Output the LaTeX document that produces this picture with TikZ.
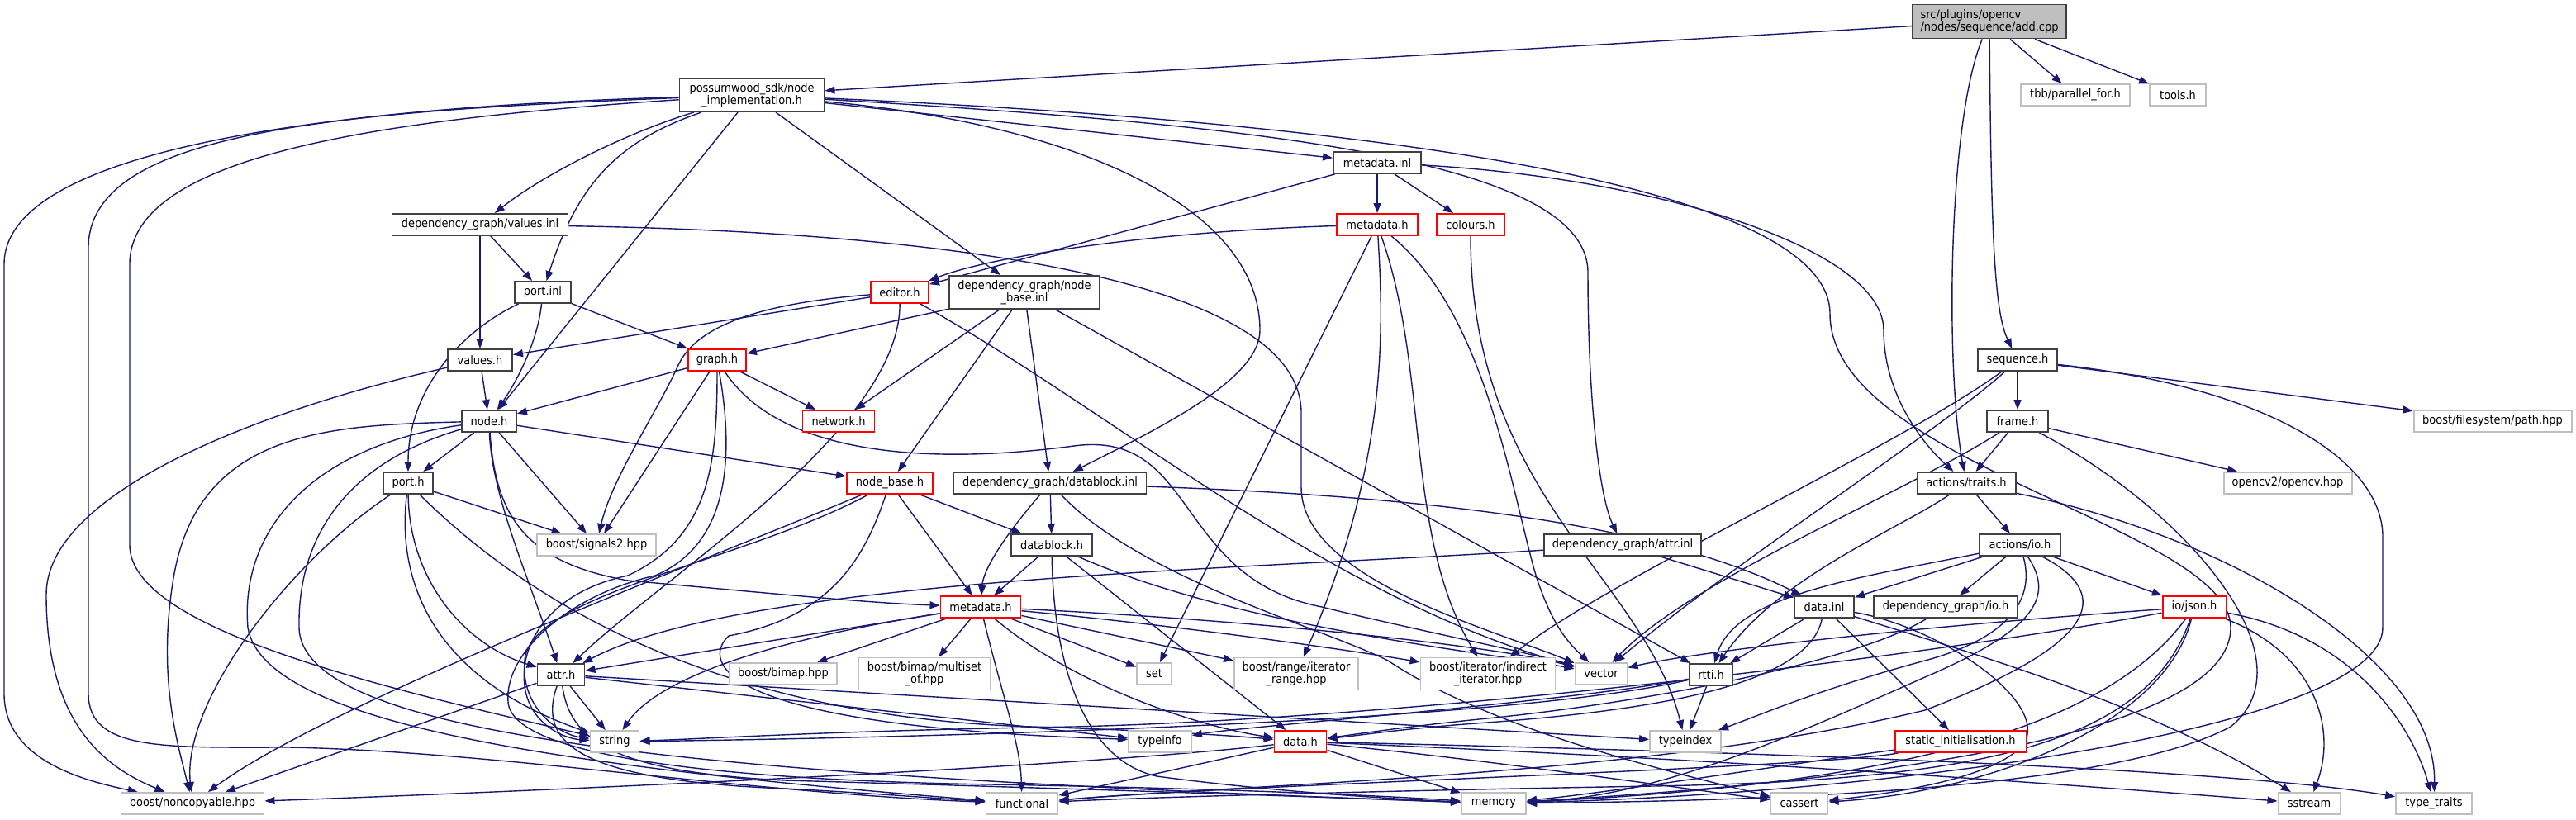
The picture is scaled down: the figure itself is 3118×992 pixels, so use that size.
\documentclass[tikz,border=0pt]{standalone}
\usepackage{fontspec}
\newfontfamily\dotfont{DejaVu Sans}[FakeStretch=0.9]
\usetikzlibrary{arrows.meta}
\definecolor{edgeblue}{HTML}{191970}
\definecolor{greyfill}{HTML}{BFBFBF}
\definecolor{boxline}{HTML}{404040}
\pgfdeclarelayer{edges}
\pgfsetlayers{edges,main}
\tikzset{
  file/.style={draw=boxline, fill=white, line width=0.55pt, inner xsep=0.8mm, inner ysep=0.2mm,
    minimum height=2.6mm, align=center, font=\dotfont\fontsize{4.1}{4.3}\selectfont},
  trunc/.style={file, draw=red},
  ext/.style={file, draw=greyfill},
  root/.style={file, fill=greyfill, align=left},
  dep/.style={draw=edgeblue, line width=0.4pt, -{Triangle[length=1.2mm,width=0.9mm]}}
}
\begin{document}
\begin{tikzpicture}[x=0.1mm, y=-0.1mm]
  \useasboundingbox (0,0) rectangle (3118,992);

  \node[root, minimum width=18.6mm, minimum height=4.1mm] (add) at (2408,26) {src/plugins/opencv\\/nodes/sequence/add.cpp};
  \node[file, minimum width=17.5mm, minimum height=4mm] (poss) at (910,115) {possumwood\_sdk/node\\\_implementation.h};
  \node[ext, minimum width=13.2mm] (tbb) at (2512,115) {tbb/parallel\_for.h};
  \node[ext, minimum width=6.8mm] (tools) at (2636,115) {tools.h};
  \node[file, minimum width=10.6mm] (mdinl) at (1667,197) {metadata.inl};
  \node[file, minimum width=21.3mm] (valinl) at (581,272) {dependency\_graph/values.inl};
  \node[trunc, minimum width=9.8mm] (mdtop) at (1667,272) {metadata.h};
  \node[trunc, minimum width=8.2mm] (colours) at (1780,272) {colours.h};
  \node[file, minimum width=6.8mm] (portinl) at (657,354) {port.inl};
  \node[trunc, minimum width=7mm] (editor) at (1089,354) {editor.h};
  \node[file, minimum width=18.2mm, minimum height=4mm] (nbinl) at (1240,354) {dependency\_graph/node\\\_base.inl};
  \node[file, minimum width=7.8mm] (valh) at (581,436) {values.h};
  \node[trunc, minimum width=7mm] (graph) at (868,436) {graph.h};
  \node[file, minimum width=9.6mm] (seq) at (2442,436) {sequence.h};
  \node[file, minimum width=6.6mm] (nodeh) at (592,510) {node.h};
  \node[trunc, minimum width=8.7mm] (network) at (1015,510) {network.h};
  \node[file, minimum width=7.4mm] (frame) at (2442,510) {frame.h};
  \node[ext, minimum width=19.1mm] (fspath) at (3017,510) {boost/filesystem/path.hpp};
  \node[file, minimum width=6mm] (porth) at (494,585) {port.h};
  \node[trunc, minimum width=10.4mm] (nbh) at (1077,585) {node\_base.h};
  \node[file, minimum width=23.3mm] (dbinl) at (1271,585) {dependency\_graph/datablock.inl};
  \node[file, minimum width=11.9mm] (traits) at (2380,585) {actions/traits.h};
  \node[ext, minimum width=15.5mm] (opencv) at (2769,585) {opencv2/opencv.hpp};
  \node[ext, minimum width=14.4mm] (signals) at (722,660) {boost/signals2.hpp};
  \node[file, minimum width=9.8mm] (dbh) at (1273,660) {datablock.h};
  \node[file, minimum width=19mm] (attrinl) at (1964,660) {dependency\_graph/attr.inl};
  \node[file, minimum width=9.8mm] (io) at (2445,660) {actions/io.h};
  \node[trunc, minimum width=9.7mm] (mdlow) at (1187,735) {metadata.h};
  \node[file, minimum width=7.2mm] (datainl) at (2208,735) {data.inl};
  \node[file, minimum width=17.4mm] (dgio) at (2355,735) {dependency\_graph/io.h};
  \node[trunc, minimum width=7.7mm] (json) at (2656,735) {io/json.h};
  \node[file, minimum width=5.7mm] (attrh) at (679,817) {attr.h};
  \node[ext, minimum width=13mm] (bimap) at (948,816) {boost/bimap.hpp};
  \node[ext, minimum width=16mm, minimum height=3.9mm] (multiset) at (1119,816) {boost/bimap/multiset\\\_of.hpp};
  \node[ext, minimum width=4.2mm] (set) at (1397,816) {set};
  \node[ext, minimum width=15mm, minimum height=3.9mm] (range) at (1569,816) {boost/range/iterator\\\_range.hpp};
  \node[ext, minimum width=16.3mm, minimum height=3.9mm] (indirect) at (1801,816) {boost/iterator/indirect\\\_iterator.hpp};
  \node[ext, minimum width=6.3mm] (vector) at (1938,816) {vector};
  \node[file, minimum width=5.3mm] (rtti) at (2071,817) {rtti.h};
  \node[ext, minimum width=5.9mm] (string) at (744,898) {string};
  \node[ext, minimum width=7.6mm] (typeinfo) at (1404,898) {typeinfo};
  \node[trunc, minimum width=6.3mm] (datah) at (1574,898) {data.h};
  \node[ext, minimum width=8.6mm] (typeindex) at (2040,898) {typeindex};
  \node[trunc, minimum width=15.9mm] (static) at (2373,898) {static\_initialisation.h};
  \node[ext, minimum width=17.3mm] (noncop) at (233,973) {boost/noncopyable.hpp};
  \node[ext, minimum width=8.7mm] (functional) at (1237,973) {functional};
  \node[ext, minimum width=7.8mm] (memory) at (1808,973) {memory};
  \node[ext, minimum width=6.9mm] (cassert) at (2178,973) {cassert};
  \node[ext, minimum width=7.5mm] (sstream) at (2795,973) {sstream};
  \node[ext, minimum width=9.2mm] (typetraits) at (2946,973) {type\_traits};

  \begin{pgfonlayer}{edges}
  \draw[dep] (add) -- (poss);
  \draw[dep] (add) -- (tbb);
  \draw[dep] (add) -- (tools);
  \draw[dep] (add) .. controls (2410,300) and (2415,380) .. (seq);
  \draw[dep] (add) .. controls (2357,150) and (2355,450) .. (traits);

  \draw[dep] (poss) .. controls (400,130) and (5,180) .. (5,320) -- (5,840) .. controls (5,920) and (100,945) .. (noncop);
  \draw[dep] (poss) .. controls (400,135) and (107,160) .. (107,300) -- (107,840) .. controls (107,910) and (200,905) .. (350,905) .. controls (600,910) and (900,960) .. (functional);
  \draw[dep] (poss) .. controls (450,145) and (157,190) .. (157,320) -- (157,660) .. controls (157,760) and (450,830) .. (string);
  \draw[dep] (poss) .. controls (760,160) and (660,210) .. (valinl);
  \draw[dep] (poss) .. controls (750,170) and (700,220) .. (portinl);
  \draw[dep] (poss) -- (nodeh);
  \draw[dep] (poss) -- (nbinl);
  \draw[dep] (poss) -- (mdinl);
  \draw[dep] (poss) .. controls (1300,150) and (1525,250) .. (1525,400) .. controls (1525,460) and (1400,520) .. (dbinl);
  \draw[dep] (poss) .. controls (1500,150) and (1922,190) .. (1922,330) .. controls (1922,480) and (1935,600) .. (attrinl);
  \draw[dep] (poss) .. controls (1700,150) and (2215,230) .. (2215,380) .. controls (2215,560) and (2700,640) .. (2700,760) .. controls (2700,900) and (2200,950) .. (memory);

  \draw[dep] (valinl) -- (portinl);
  \draw[dep] (valinl) -- (valh);
  \draw[dep] (valinl) .. controls (1100,280) and (1575,330) .. (1575,500) -- (1575,590) .. controls (1575,700) and (1800,760) .. (vector);

  \draw[dep] (portinl) .. controls (560,400) and (494,470) .. (porth);
  \draw[dep] (portinl) .. controls (650,420) and (620,470) .. (nodeh);
  \draw[dep] (portinl) -- (graph);

  \draw[dep] (valh) -- (nodeh);
  \draw[dep] (valh) .. controls (300,500) and (56,600) .. (56,720) .. controls (56,880) and (130,930) .. (noncop);

  \draw[dep] (editor) -- (valh);
  \draw[dep] (editor) .. controls (950,365) and (850,385) .. (822,440) .. controls (795,500) and (740,580) .. (signals);
  \draw[dep] (editor) .. controls (1090,520) and (800,700) .. (attrh);
  \draw[dep] (editor) .. controls (1350,500) and (1600,720) .. (vector);

  \draw[dep] (nbinl) -- (graph);
  \draw[dep] (nbinl) -- (network);
  \draw[dep] (nbinl) -- (nbh);
  \draw[dep] (nbinl) -- (dbinl);
  \draw[dep] (nbinl) -- (rtti);

  \draw[dep] (graph) -- (nodeh);
  \draw[dep] (graph) -- (network);
  \draw[dep] (graph) -- (signals);
  \draw[dep] (graph) .. controls (950,560) and (1150,560) .. (1300,540) .. controls (1450,520) and (1420,700) .. (1600,735) .. controls (1700,760) and (1850,790) .. (vector);
  \draw[dep] (graph) .. controls (868,560) and (860,650) .. (760,697) .. controls (650,720) and (620,800) .. (640,850) .. controls (655,885) and (690,895) .. (string);
  \draw[dep] (graph) .. controls (890,560) and (880,660) .. (793,697) .. controls (690,720) and (610,790) .. (615,850) .. controls (620,920) and (900,945) .. (1200,950) .. controls (1500,955) and (1700,965) .. (memory);

  \draw[dep] (nodeh) -- (porth);
  \draw[dep] (nodeh) -- (signals);
  \draw[dep] (nodeh) -- (nbh);
  \draw[dep] (nodeh) .. controls (595,600) and (640,700) .. (attrh);
  \draw[dep] (nodeh) .. controls (600,620) and (630,680) .. (760,703) .. controls (950,720) and (1050,730) .. (mdlow);
  \draw[dep] (nodeh) .. controls (400,515) and (240,520) .. (210,700) .. controls (190,820) and (215,900) .. (noncop);
  \draw[dep] (nodeh) .. controls (380,540) and (290,640) .. (300,760) .. controls (320,880) and (700,930) .. (functional);
  \draw[dep] (nodeh) .. controls (420,560) and (360,650) .. (362,760) .. controls (365,900) and (900,940) .. (memory);

  \draw[dep] (porth) .. controls (350,680) and (220,850) .. (noncop);
  \draw[dep] (porth) -- (signals);
  \draw[dep] (porth) .. controls (495,700) and (560,780) .. (attrh);
  \draw[dep] (porth) .. controls (480,700) and (520,820) .. (string);
  \draw[dep] (porth) .. controls (660,750) and (900,870) .. (1250,880) .. controls (1400,885) and (1480,890) .. (datah);

  \draw[dep] (nbh) -- (mdlow);
  \draw[dep] (nbh) -- (dbh);
  \draw[dep] (nbh) .. controls (850,680) and (400,850) .. (noncop);
  \draw[dep] (nbh) .. controls (900,680) and (640,720) .. (635,800) .. controls (630,860) and (680,890) .. (string);
  \draw[dep] (nbh) .. controls (1045,680) and (1004,747) .. (882,770) .. controls (850,800) and (860,880) .. (1357,895) -- (typeinfo);

  \draw[dep] (dbinl) .. controls (1215,650) and (1190,690) .. (mdlow);
  \draw[dep] (dbinl) -- (dbh);
  \draw[dep] (dbinl) .. controls (1700,600) and (2000,630) .. (datainl);
  \draw[dep] (dbinl) .. controls (1380,700) and (1600,760) .. (1680,800) .. controls (1800,880) and (2000,930) .. (cassert);

  \draw[dep] (dbh) -- (mdlow);
  \draw[dep] (dbh) -- (datah);
  \draw[dep] (dbh) .. controls (1275,800) and (1310,920) .. (1400,940) .. controls (1550,960) and (1700,968) .. (memory);
  \draw[dep] (dbh) .. controls (1500,760) and (1800,790) .. (vector);

  \draw[dep] (mdlow) -- (attrh);
  \draw[dep] (mdlow) .. controls (900,780) and (790,830) .. (string);
  \draw[dep] (mdlow) -- (bimap);
  \draw[dep] (mdlow) -- (multiset);
  \draw[dep] (mdlow) -- (set);
  \draw[dep] (mdlow) -- (range);
  \draw[dep] (mdlow) .. controls (1215,850) and (1235,900) .. (functional);
  \draw[dep] (mdlow) .. controls (1300,830) and (1450,880) .. (datah);
  \draw[dep] (mdlow) .. controls (1450,760) and (1650,790) .. (indirect);
  \draw[dep] (mdlow) .. controls (1500,750) and (1800,780) .. (vector);

  \draw[dep] (attrh) -- (noncop);
  \draw[dep] (attrh) -- (string);
  \draw[dep] (attrh) .. controls (650,900) and (700,945) .. (950,955) .. controls (1050,960) and (1150,968) .. (functional);
  \draw[dep] (attrh) .. controls (690,900) and (750,935) .. (950,945) .. controls (1300,955) and (1600,965) .. (memory);
  \draw[dep] (attrh) -- (typeinfo);
  \draw[dep] (attrh) -- (typeindex);

  \draw[dep] (mdinl) -- (mdtop);
  \draw[dep] (mdinl) -- (colours);
  \draw[dep] (mdinl) -- (editor);
  \draw[dep] (mdinl) .. controls (2000,215) and (2280,300) .. (2280,400) .. controls (2280,480) and (2330,540) .. (traits);

  \draw[dep] (mdtop) .. controls (1400,280) and (1200,310) .. (editor);
  \draw[dep] (mdtop) -- (set);
  \draw[dep] (mdtop) .. controls (1675,400) and (1680,560) .. (range);
  \draw[dep] (mdtop) .. controls (1730,450) and (1700,650) .. (indirect);
  \draw[dep] (mdtop) .. controls (1800,380) and (1830,600) .. (1860,700) .. controls (1880,760) and (1900,780) .. (vector);
  \draw[dep] (colours) .. controls (1780,600) and (1990,700) .. (typeindex);

  \draw[dep] (attrinl) .. controls (1500,690) and (900,700) .. (attrh);
  \draw[dep] (attrinl) -- (datainl);

  \draw[dep] (datah) .. controls (1300,930) and (600,960) .. (noncop);
  \draw[dep] (datah) -- (functional);
  \draw[dep] (datah) -- (memory);
  \draw[dep] (datah) .. controls (1800,920) and (2000,950) .. (cassert);
  \draw[dep] (datah) .. controls (2100,920) and (2500,950) .. (sstream);
  \draw[dep] (datah) .. controls (2100,910) and (2700,930) .. (typetraits);

  \draw[dep] (rtti) .. controls (1800,880) and (1000,895) .. (string);
  \draw[dep] (rtti) -- (typeindex);
  \draw[dep] (rtti) .. controls (1900,850) and (1500,880) .. (typeinfo);

  \draw[dep] (datainl) -- (rtti);
  \draw[dep] (datainl) .. controls (2190,830) and (2000,860) .. (1800,875) .. controls (1700,882) and (1650,890) .. (datah);
  \draw[dep] (datainl) -- (static);
  \draw[dep] (datainl) .. controls (2350,780) and (2600,850) .. (sstream);
  \draw[dep] (datainl) .. controls (2350,760) and (2480,850) .. (2450,900) .. controls (2420,940) and (2300,960) .. (cassert);
  \draw[dep] (dgio) .. controls (2250,800) and (2000,850) .. (1800,870) .. controls (1700,880) and (1650,888) .. (datah);

  \draw[dep] (io) -- (datainl);
  \draw[dep] (io) .. controls (2250,700) and (2100,720) .. (rtti);
  \draw[dep] (io) -- (dgio);
  \draw[dep] (io) -- (json);
  \draw[dep] (io) .. controls (2462,720) and (2440,770) .. (2330,800) .. controls (2200,835) and (2120,870) .. (typeindex);
  \draw[dep] (io) .. controls (2485,720) and (2470,760) .. (2330,820) .. controls (2150,900) and (2000,965) .. (memory);
  \draw[dep] (io) .. controls (2560,720) and (2540,780) .. (2330,860) .. controls (2000,940) and (1500,950) .. (functional);

  \draw[dep] (json) .. controls (2300,760) and (2050,790) .. (vector);
  \draw[dep] (json) .. controls (2300,800) and (1700,870) .. (1300,880) .. controls (1000,885) and (850,895) .. (string);
  \draw[dep] (json) .. controls (2550,880) and (2300,950) .. (memory);
  \draw[dep] (json) .. controls (2600,900) and (2400,945) .. (2000,952) .. controls (1700,957) and (1400,965) .. (functional);
  \draw[dep] (json) .. controls (2620,880) and (2400,960) .. (cassert);
  \draw[dep] (json) .. controls (2800,790) and (2830,880) .. (sstream);
  \draw[dep] (json) .. controls (2850,770) and (2920,880) .. (typetraits);

  \draw[dep] (traits) -- (io);
  \draw[dep] (traits) .. controls (2700,650) and (2950,800) .. (typetraits);
  \draw[dep] (traits) .. controls (2300,640) and (2150,700) .. (rtti);

  \draw[dep] (frame) -- (traits);
  \draw[dep] (frame) -- (opencv);
  \draw[dep] (frame) .. controls (2300,600) and (2050,700) .. (vector);
  \draw[dep] (frame) .. controls (2650,620) and (2800,800) .. (2700,880) .. controls (2550,960) and (2100,970) .. (memory);

  \draw[dep] (seq) -- (frame);
  \draw[dep] (seq) -- (fspath);
  \draw[dep] (seq) .. controls (2750,470) and (2884,560) .. (2884,650) -- (2884,760) .. controls (2884,880) and (2300,960) .. (memory);
  \draw[dep] (seq) .. controls (2350,520) and (2100,680) .. (vector);
  \draw[dep] (seq) .. controls (2300,540) and (1950,700) .. (indirect);

  \draw[dep] (static) .. controls (2200,920) and (1950,960) .. (memory);
  \draw[dep] (static) .. controls (2200,930) and (1500,950) .. (functional);
  \end{pgfonlayer}

\end{tikzpicture}
\end{document}
